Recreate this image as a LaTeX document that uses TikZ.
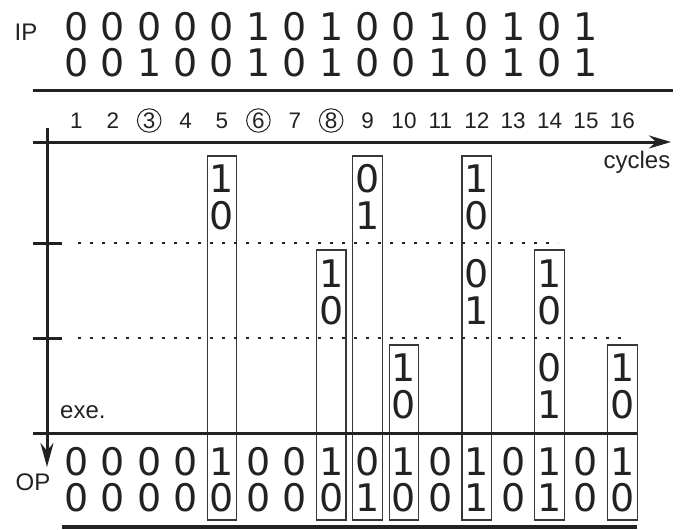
\documentclass[tikz,border=0pt]{standalone}
\usepackage{fontspec}
\setmainfont{Liberation Sans}
\newfontfamily\digitfont{DejaVu Sans}
\usetikzlibrary{arrows.meta}
\definecolor{ink}{HTML}{222222}
\begin{document}
\begin{tikzpicture}[x=1pt,y=-1pt,
  dig/.style={font=\digitfont\fontsize{38}{38}\selectfont, inner sep=0pt, text=ink},
  lab/.style={font=\fontsize{24}{24}\selectfont, inner sep=0pt, text=ink},
  num/.style={font=\fontsize{22.5}{22.5}\selectfont, inner sep=0pt, text=ink},
  circnum/.style={num, circle, draw=ink, line width=1pt, minimum size=23.5pt},
  axis/.style={line width=3pt, draw=ink},
  slot/.style={draw=ink!90, line width=1.2pt},
  guide/.style={draw=ink, line width=2.5pt, dash pattern=on 2.5pt off 9.5pt},
]
\useasboundingbox (0,0) rectangle (699,530);

% input
\node[lab, anchor=base] (ip) at (26,40) {IP};
\foreach \d [count=\k] in {0,0,0,0,0,1,0,1,0,0,1,0,1,0,1}
  \node[dig] (ipa\k) at ({40+36.4*\k},27) {\d};
\foreach \d [count=\k] in {0,0,1,0,0,1,0,1,0,0,1,0,1,0,1}
  \node[dig] (ipb\k) at ({40+36.4*\k},63) {\d};
\coordinate (iplineL) at (33,90);
\coordinate (iplineR) at (673,90);
\draw[axis] (iplineL) -- (iplineR);

% cycle numbers
\foreach \k/\st in {1/num,2/num,3/circnum,4/num,5/num,6/circnum,7/num,8/circnum,9/num,10/num,11/num,12/num,13/num,14/num,15/num,16/num}
  \node[\st] (cyc\k) at ({40+36.4*\k},120.5) {\k};

% boxes
\foreach \k/\top in {5/156,8/250,9/156,10/345,12/156,14/250,16/345}
  \draw[slot] ({40+36.4*\k-14.75},\top) rectangle ({40+36.4*\k+14.75},520);

% box digits
\foreach \k/\y/\d [count=\i] in {5/179/1,5/216/0,8/274/1,8/311/0,9/179/0,9/216/1,10/368/1,10/405/0,
  12/179/1,12/216/0,12/274/0,12/311/1,14/274/1,14/311/0,14/368/0,14/405/1,16/368/1,16/405/0}
  \node[dig] (bx\i) at ({40+36.4*\k},\y) {\d};

% axes
\coordinate (hstart) at (33,142);
\coordinate (hend) at (671,142);
\draw[axis,-{Stealth[length=22pt,width=13pt]}] (hstart) -- (hend);
\coordinate (vstart) at (47,128);
\coordinate (vend) at (47,467);
\draw[axis,-{Stealth[length=24pt,width=13pt]}] (vstart) -- (vend);
\node[lab, anchor=base] (cycles) at (637,168) {cycles};

% ticks and guides
\coordinate (t1a) at (33,243); \coordinate (t1b) at (62,243);
\coordinate (t2a) at (33,338); \coordinate (t2b) at (62,338);
\draw[axis] (t1a) -- (t1b);
\draw[axis] (t2a) -- (t2b);
\coordinate (g1a) at (78,243); \coordinate (g1b) at (558,243);
\coordinate (g2a) at (78,338); \coordinate (g2b) at (628,338);
\draw[guide] (g1a) -- (g1b);
\draw[guide] (g2a) -- (g2b);

% exe line
\node[lab, anchor=base west] (exe) at (60,418) {exe.};
\coordinate (exeL) at (33,433);
\coordinate (exeR) at (637,433);
\draw[axis] (exeL) -- (exeR);

% output
\node[lab, anchor=base] (op) at (33,490) {OP};
\foreach \d [count=\k] in {0,0,0,0,1,0,0,1,0,1,0,1,0,1,0,1}
  \node[dig] (opa\k) at ({40+36.4*\k},462) {\d};
\foreach \d [count=\k] in {0,0,0,0,0,0,0,0,1,0,0,1,0,1,0,0}
  \node[dig] (opb\k) at ({40+36.4*\k},498) {\d};
\coordinate (botL) at (62,527);
\coordinate (botR) at (637,527);
\draw[line width=4pt, draw=ink] (botL) -- (botR);
\end{tikzpicture}
\end{document}
